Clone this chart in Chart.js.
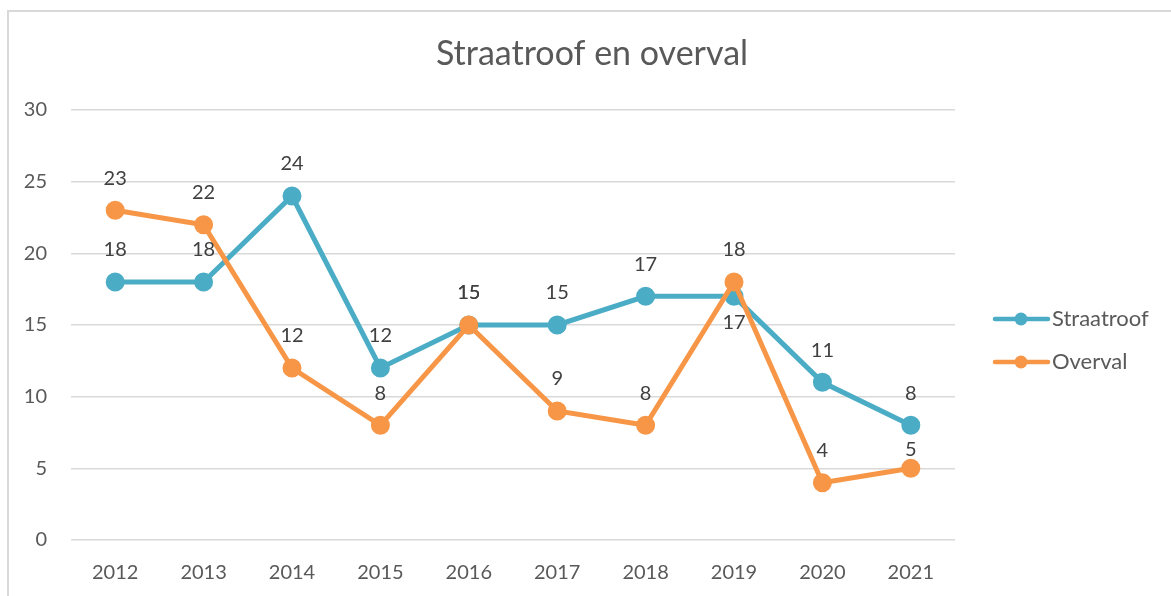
<!DOCTYPE html>
<html>
<head>
<meta charset="utf-8">
<script src="https://cdn.jsdelivr.net/npm/chart.js@4"></script>
<style>
  html, body { margin: 0; padding: 0; background: #fff; }
  #wrap { width: 1171px; height: 596px; position: relative; }
</style>
</head>
<body>
<div id="wrap"><canvas id="lineChart"></canvas></div>
<script>
// data
const years = ['2012', '2013', '2014', '2015', '2016', '2017', '2018', '2019', '2020', '2021'];
const straatroof = [18, 18, 24, 12, 15, 15, 17, 17, 11, 8];
const overval = [23, 22, 12, 8, 15, 9, 8, 18, 4, 5];

const blue = '#4BACC6';
const orange = '#F79646';
const textCol = '#595959';
const labelCol = '#404040';
const fontFam = 'Lato, "Open Sans", sans-serif';

// where a value label sits relative to its point (px), default is above
const labelShift = [
    { 7: 26 },          // Straatroof 2019 goes below
    { 9: -19 }          // Overval 2021 is squeezed under the blue point
];

// frame, title, value labels and legend
const extras = {
    id: 'extras',
    beforeDraw(chart) {
        const ctx = chart.ctx;
        ctx.save();
        ctx.fillStyle = '#fff';
        ctx.fillRect(0, 0, chart.width, chart.height);
        ctx.strokeStyle = '#d9d9d9';
        ctx.lineWidth = 2;
        ctx.strokeRect(8, 11, 1300, 800);
        ctx.restore();
    },
    afterDatasetsDraw(chart) {
        const ctx = chart.ctx;
        ctx.save();
        ctx.fillStyle = textCol;
        ctx.textAlign = 'center';
        ctx.textBaseline = 'middle';
        ctx.font = '34px ' + fontFam;
        ctx.fillText('Straatroof en overval', 592, 54);

        ctx.font = '20px ' + fontFam;
        ctx.fillStyle = labelCol;
        chart.data.datasets.forEach(function(ds, i){
            const meta = chart.getDatasetMeta(i);
            meta.data.forEach(function(pt, j){
                const dy = labelShift[i][j] !== undefined ? labelShift[i][j] : -32;
                ctx.fillText(String(ds.data[j]), pt.x, pt.y + dy);
            });
        });

        // legend
        ctx.font = '22px ' + fontFam;
        const items = [['Straatroof', blue, 319], ['Overval', orange, 362]];
        items.forEach(function(it){
            ctx.strokeStyle = it[1];
            ctx.fillStyle = it[1];
            ctx.lineWidth = 4.5;
            ctx.lineCap = 'round';
            ctx.beginPath();
            ctx.moveTo(995, it[2]);
            ctx.lineTo(1048, it[2]);
            ctx.stroke();
            ctx.beginPath();
            ctx.arc(1021, it[2], 6.5, 0, Math.PI * 2);
            ctx.fill();
            ctx.fillStyle = textCol;
            ctx.textAlign = 'left';
            ctx.fillText(it[0], 1052, it[2]);
        });
        ctx.restore();
    }
};

const data = {
    labels: years,
    datasets: [{
        label: 'Straatroof',
        data: straatroof,
        borderColor: blue,
        backgroundColor: blue,
        borderWidth: 5,
        pointRadius: 7,
        pointHoverRadius: 7,
        tension: 0,
        order: 1
    }, {
        label: 'Overval',
        data: overval,
        borderColor: orange,
        backgroundColor: orange,
        borderWidth: 5,
        pointRadius: 7,
        pointHoverRadius: 7,
        tension: 0,
        order: 0
    }]
};

const config = {
    type: 'line',
    data,
    plugins: [extras],
    options: {
        responsive: true,
        maintainAspectRatio: false,
        animation: false,
        layout: { padding: { top: 110, right: 216, bottom: 0, left: 0 } },
        plugins: {
            legend: { display: false },
            title: { display: false },
            tooltip: { enabled: false }
        },
        scales: {
            x: {
                offset: true,
                grid: { display: false, drawTicks: false },
                border: { display: false },
                ticks: { color: textCol, font: { family: fontFam, size: 20 }, padding: 21 },
                afterFit(scale) { scale.height = 56; }
            },
            y: {
                min: 0,
                max: 30,
                grid: { color: '#d9d9d9', lineWidth: 1.5, drawTicks: false },
                border: { display: false },
                ticks: { stepSize: 5, color: textCol, font: { family: fontFam, size: 20 }, padding: 24 },
                afterFit(scale) { scale.width = 71; }
            }
        }
    }
};

var myChart = new Chart(document.getElementById('lineChart'), config);
</script>
</body>
</html>
